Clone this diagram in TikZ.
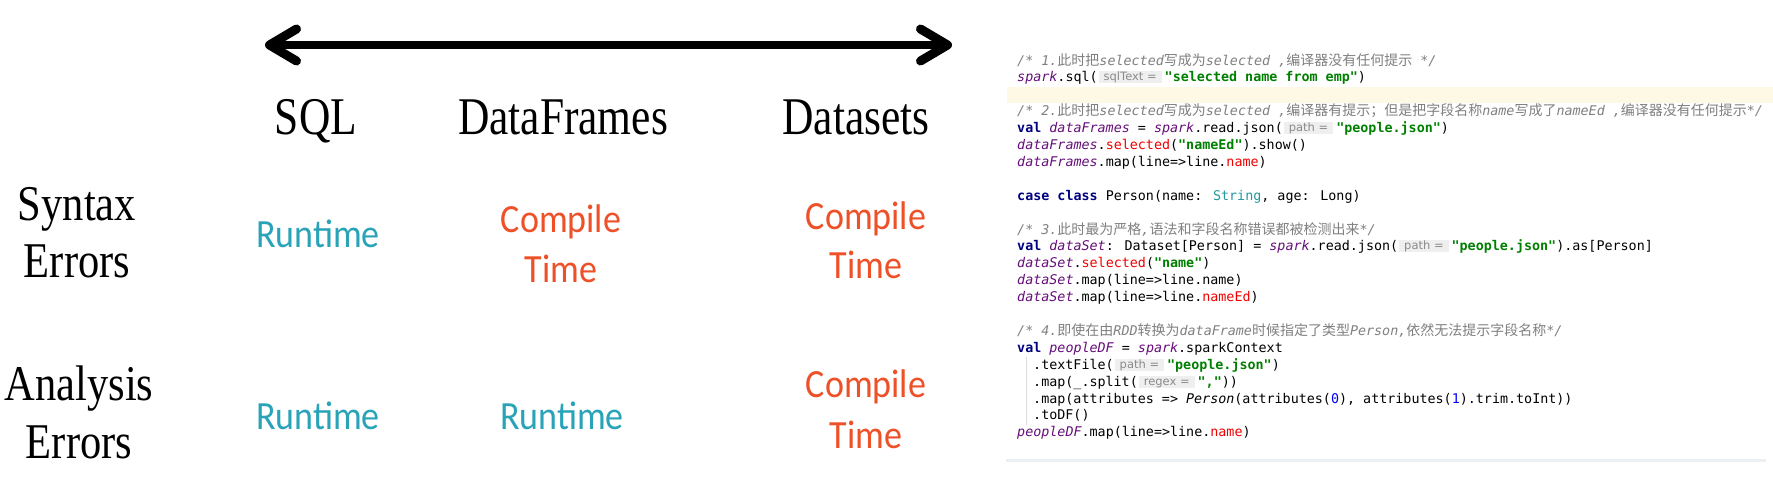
\documentclass[tikz,border=0pt]{standalone}
\usepackage{fontspec}
\usetikzlibrary{calc}
\setmainfont{Liberation Serif}
\newfontfamily\codefam{DejaVu Sans Mono}
\newfontfamily\cjkfam{Noto Sans CJK SC}
\newfontfamily\hintfam{DejaVu Sans}
\newfontfamily\lightfam{Carlito}
\definecolor{cmt}{HTML}{808080}
\definecolor{kw}{HTML}{000080}
\definecolor{str}{HTML}{008000}
\definecolor{fld}{HTML}{660E7A}
\definecolor{err}{HTML}{F00000}
\definecolor{typ}{HTML}{20999D}
\definecolor{num}{HTML}{0000FF}
\definecolor{hintbg}{HTML}{EFEFEF}
\definecolor{hintfg}{HTML}{8A8A8A}
\definecolor{hl}{HTML}{FEF9E4}
\definecolor{sepgray}{HTML}{ECEFF3}
\definecolor{guide}{HTML}{DDDDDD}
\definecolor{teal}{HTML}{29A3B8}
\definecolor{orng}{HTML}{EE5028}
\newcommand\K[1]{{\bfseries\color{kw}#1}}
\newcommand\Str[1]{{\bfseries\color{str}#1}}
\newcommand\V[1]{{\itshape\color{fld}#1}}
\newcommand\Er[1]{{\color{err}#1}}
\newcommand\Ty[1]{{\color{typ}#1}}
\newcommand\Nm[1]{{\color{num}#1}}
\newcommand\It[1]{{\itshape #1}}
\newcommand\Cm[1]{{\itshape\color{cmt}#1}}
\newcommand\Cj[1]{{\cjkfam\fontsize{14.0}{17}\selectfont\color{cmt}#1}}
\newcommand\hint[1]{\hspace{1pt}{\setlength{\fboxsep}{0pt}\colorbox{hintbg}{\rule[-1.5pt]{0pt}{12pt}\hspace{5pt}\smash{\raisebox{1pt}{\hintfam\fontsize{11.5}{12}\selectfont\color{hintfg}#1}}\hspace{5pt}}}\hspace{3pt}}
\newcommand\twoline[3]{\vtop{\baselineskip=#1\lineskiplimit=-100pt\halign{\hfil##\hfil\cr #2\cr #3\cr}}}
\begin{document}
\begin{tikzpicture}[x=1pt,y=-1pt,
  code/.style={anchor=base west, inner sep=0pt, font=\codefam\fontsize{13.37}{16.9}\selectfont},
  head/.style={anchor=base, inner sep=0pt, font=\fontsize{53}{60}\selectfont},
  rowlab/.style={anchor=base, inner sep=0pt, font=\fontsize{50}{57}\selectfont},
  rt/.style={anchor=base, inner sep=0pt, text=teal, font=\lightfam\fontsize{40}{50}\selectfont},
  ct/.style={anchor=base, inner sep=0pt, text=orng, font=\lightfam\fontsize{40}{50}\selectfont}]
\fill[white] (0,0) rectangle (1773,477);
\useasboundingbox (0,0) rectangle (1773,477);
% double arrow
\coordinate (AL) at (269.5,45);
\coordinate (AR) at (947.5,45);
\draw[line width=7.5pt] (AL) -- (AR);
\draw[line width=9pt, line cap=round, line join=round] ($(AL)+(27,-16)$) -- (AL) -- ($(AL)+(27,16)$);
\draw[line width=9pt, line cap=round, line join=round] ($(AR)+(-27,-16)$) -- (AR) -- ($(AR)+(-27,16)$);
% headers
\node[head] (hSQL) at (316,134) {\scalebox{0.82}[1]{SQL}};
\node[head] (hDF) at (563,134) {\scalebox{0.82}[1]{DataFrames}};
\node[head] (hDS) at (856,134) {\scalebox{0.82}[1]{Datasets}};
% row labels
\node[rowlab] (rSyn) at (77,220) {\scalebox{0.85}[1]{\twoline{57pt}{Syntax}{Errors}}};
\node[rowlab] (rAna) at (79,400) {\scalebox{0.85}[1]{\twoline{58pt}{Analysis}{Errors}}};
% cells
\node[rt] (c11) at (318,247) {\scalebox{0.9}[1]{Runtime}};
\node[ct] (c12) at (561,232) {\scalebox{0.9}[1]{\twoline{50pt}{Compile}{Time}}};
\node[ct] (c13) at (866,229) {\scalebox{0.9}[1]{\twoline{49pt}{Compile}{Time}}};
\node[rt] (c21) at (318,429) {\scalebox{0.9}[1]{Runtime}};
\node[rt] (c22) at (562,429) {\scalebox{0.9}[1]{Runtime}};
\node[ct] (c23) at (866,397) {\scalebox{0.9}[1]{\twoline{51pt}{Compile}{Time}}};
% code panel
\fill[hl] (1007,87) rectangle (1773,103);
\draw[line width=1pt, guide] (1026,357) -- (1026,425);
\draw[line width=3pt, sepgray] (1006,460) -- (1766,460);
\node[code] (l1) at (1017,65) {\Cm{/* 1.}\Cj{此时把}\Cm{selected}\Cj{写成为}\Cm{selected ,}\Cj{编译器没有任何提示}\Cm{\ */}};
\node[code] (l2) at (1017,81.9) {\V{spark}.sql(\hint{sqlText =}\Str{"selected name from emp"})};
\node[code] (l4) at (1017,115.7) {\Cm{/* 2.}\Cj{此时把}\Cm{selected}\Cj{写成为}\Cm{selected ,}\Cj{编译器有提示；但是把字段名称}\Cm{name}\Cj{写成了}\Cm{nameEd ,}\Cj{编译器没有任何提示}\Cm{*/}};
\node[code] (l5) at (1017,132.6) {\K{val} \V{dataFrames} = \V{spark}.read.json(\hint{path =}\Str{"people.json"})};
\node[code] (l6) at (1017,149.5) {\V{dataFrames}.\Er{selected}(\Str{"nameEd"}).show()};
\node[code] (l7) at (1017,166.4) {\V{dataFrames}.map(line=>line.\Er{name})};
\node[code] (l9) at (1017,200.2) {\K{case} \K{class} Person(name: \Ty{String}, age: Long)};
\node[code] (l11) at (1017,234.0) {\Cm{/* 3.}\Cj{此时最为严格}\Cm{,}\Cj{语法和字段名称错误都被检测出来}\Cm{*/}};
\node[code] (l12) at (1017,250.9) {\K{val} \V{dataSet}: Dataset[Person] = \V{spark}.read.json(\hint{path =}\Str{"people.json"}).as[Person]};
\node[code] (l13) at (1017,267.8) {\V{dataSet}.\Er{selected}(\Str{"name"})};
\node[code] (l14) at (1017,284.7) {\V{dataSet}.map(line=>line.name)};
\node[code] (l15) at (1017,301.6) {\V{dataSet}.map(line=>line.\Er{nameEd})};
\node[code] (l17) at (1017,335.4) {\Cm{/* 4.}\Cj{即使在由}\Cm{RDD}\Cj{转换为}\Cm{dataFrame}\Cj{时候指定了类型}\Cm{Person,}\Cj{依然无法提示字段名称}\Cm{*/}};
\node[code] (l18) at (1017,352.3) {\K{val} \V{peopleDF} = \V{spark}.sparkContext};
\node[code] (l19) at (1033,369.2) {.textFile(\hint{path =}\Str{"people.json"})};
\node[code] (l20) at (1033,386.1) {.map(\_.split(\hint{regex =}\Str{","}))};
\node[code] (l21) at (1033,403.0) {.map(attributes => \It{Person}(attributes(\Nm{0}), attributes(\Nm{1}).trim.toInt))};
\node[code] (l22) at (1033,419.9) {.toDF()};
\node[code] (l23) at (1017,436.8) {\V{peopleDF}.map(line=>line.\Er{name})};
\end{tikzpicture}
\end{document}
